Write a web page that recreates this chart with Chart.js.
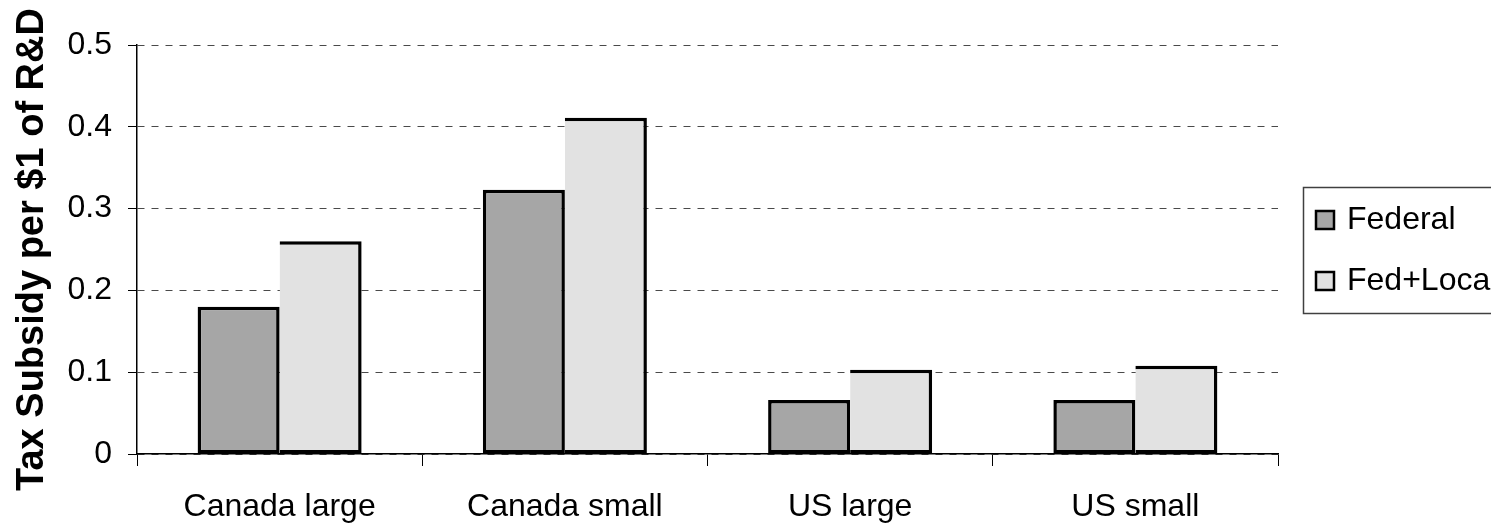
<!DOCTYPE html>
<html>
<head>
<meta charset="utf-8">
<title>Tax Subsidy per $1 of R&amp;D</title>
<script src="https://cdn.jsdelivr.net/npm/chart.js@4/dist/chart.umd.min.js"></script>
<style>
  html, body { margin: 0; padding: 0; background: #ffffff; overflow: hidden; }
  #wrap { width: 1491px; height: 530px; }
</style>
</head>
<body>
<div id="wrap"><canvas id="chart" width="1491" height="530"></canvas></div>
<script>
// Categories and series values
const categories = ['Canada large', 'Canada small', 'US large', 'US small'];
const federal = [0.18, 0.323, 0.066, 0.066];
const fedLocal = [0.26, 0.411, 0.103, 0.108];
const seriesNames = ['Federal', 'Fed+Local'];
const yTickValues = [0, 0.1, 0.2, 0.3, 0.4, 0.5];
const yTitle = 'Tax Subsidy per $1 of R&D';

const FONT = '"Liberation Sans", Arial, Helvetica, sans-serif';

// Boxed legend on the right, clipped by the canvas edge
const boxLegend = {
  id: 'boxLegend',
  afterDraw(chart) {
    const ctx = chart.ctx;
    const area = chart.chartArea;
    const left = area.right + 25;
    const top = 187;
    ctx.save();
    ctx.lineWidth = 1.5;
    ctx.strokeStyle = '#404040';
    ctx.strokeRect(left + 0.5, top + 0.5, 400, 126);
    const rows = [220, 281];
    chart.data.datasets.forEach((ds, i) => {
      const cy = rows[i];
      ctx.fillStyle = ds.backgroundColor;
      ctx.fillRect(left + 13, cy - 9, 18, 18);
      ctx.lineWidth = 2.5;
      ctx.strokeStyle = '#000000';
      ctx.strokeRect(left + 13, cy - 9, 18, 18);
      ctx.fillStyle = '#000000';
      ctx.font = '32px ' + FONT;
      ctx.textAlign = 'left';
      ctx.textBaseline = 'middle';
      ctx.fillText(ds.label, left + 44, cy);
    });
    ctx.restore();
  }
};

new Chart(document.getElementById('chart'), {
  type: 'bar',
  data: {
    labels: categories,
    datasets: [
      {
        label: seriesNames[0],
        data: federal,
        backgroundColor: '#a6a6a6',
        borderColor: '#000000',
        borderWidth: 3.5,
        borderSkipped: false
      },
      {
        label: seriesNames[1],
        data: fedLocal,
        backgroundColor: '#e2e2e2',
        borderColor: '#000000',
        borderWidth: { top: 3.5, right: 3.5, bottom: 3.5, left: 0 },
        borderSkipped: false
      }
    ]
  },
  options: {
    responsive: false,
    devicePixelRatio: 1,
    animation: false,
    events: [],
    layout: { padding: { left: 0, top: 45, right: 213, bottom: 0 } },
    datasets: {
      bar: { barPercentage: 1.0, categoryPercentage: 0.575 }
    },
    plugins: {
      legend: { display: false },
      tooltip: { enabled: false },
      title: { display: false }
    },
    scales: {
      x: {
        offset: true,
        grid: {
          offset: true,
          drawOnChartArea: false,
          drawTicks: true,
          tickLength: 12,
          tickColor: '#000000',
          tickWidth: 1
        },
        border: { display: true, color: '#000000', width: 1.5 },
        ticks: {
          color: '#000000',
          padding: 22,
          maxRotation: 0,
          autoSkip: false,
          font: { family: FONT, size: 32 }
        },
        afterFit(scale) { scale.height = 76; }
      },
      y: {
        min: 0,
        max: 0.5,
        afterBuildTicks(scale) {
          scale.ticks = yTickValues.map(v => ({ value: v }));
        },
        grid: {
          color: '#4a4a4a',
          lineWidth: 1,
          drawTicks: true,
          tickLength: 9,
          tickColor: '#000000',
          tickWidth: 1,
          tickBorderDash: []
        },
        border: { display: true, color: '#000000', width: 1.5, dash: [7, 7] },
        ticks: {
          color: '#000000',
          padding: 16,
          font: { family: FONT, size: 32 },
          callback: (v) => (v === 0 ? '0' : Number(v).toFixed(1))
        },
        title: {
          display: true,
          text: yTitle,
          color: '#000000',
          padding: { top: 10, bottom: 0 },
          font: { family: FONT, size: 38, weight: 'bold' }
        },
        afterFit(scale) { scale.width = 137; }
      }
    }
  },
  plugins: [boxLegend]
});
</script>
</body>
</html>
